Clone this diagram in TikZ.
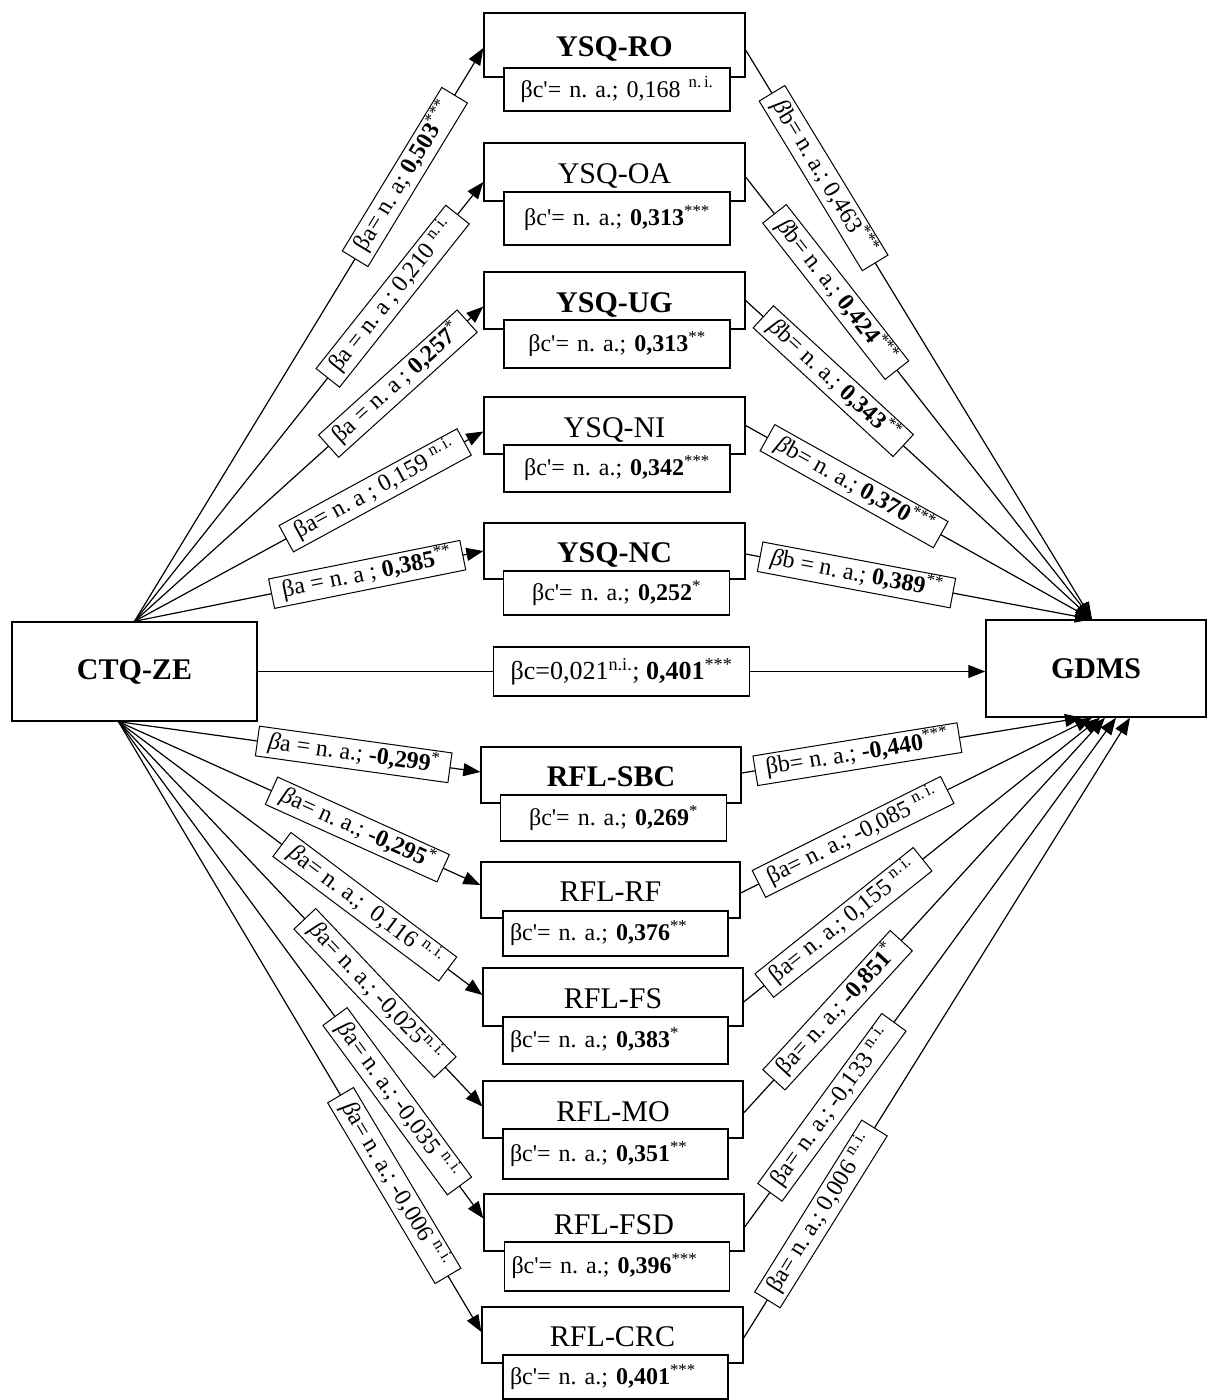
\documentclass[tikz,border=0pt]{standalone}
\usepackage{fontspec}
\setmainfont{Liberation Serif}
\usetikzlibrary{arrows.meta}
\newcommand\betu{β}
\newcommand\beti{\textit{β}}
\newcommand\cpr{\textquotesingle}
\newcommand\nsig{\textsuperscript{n.\,i.}}
\frenchspacing
\begin{document}
\begin{tikzpicture}[x=1pt,y=-1pt,
  big/.style={draw, line width=1.4pt, inner sep=0pt, font=\bfseries\fontsize{30}{34}\selectfont},
  box/.style={draw, line width=1.3pt, fill=white, inner sep=0pt, minimum width=261pt,
    text height=23pt, text depth=0pt, font=\fontsize{30}{34}\selectfont},
  sub/.style={draw, line width=1.3pt, fill=white, inner xsep=7pt, inner ysep=0pt, font=\fontsize{24}{28}\selectfont},
  subc/.style={sub, align=center, text width=212pt},
  subl/.style={sub, align=left, text width=211pt},
  lab/.style={draw, line width=1pt, fill=white, sloped, inner xsep=11pt, inner ysep=3.5pt,
    text height=17.5pt, text depth=5.5pt, font=\fontsize{24}{28}\selectfont},
  clab/.style={draw, line width=1.2pt, fill=white, minimum width=256pt, minimum height=49pt,
    inner sep=0pt, font=\fontsize{26}{30}\selectfont},
  arr/.style={line width=1.2pt, -{Triangle[length=17pt,width=13pt]}},
]
\useasboundingbox (0,0) rectangle (1207,1400);

% predictor and outcome
\node[big, minimum width=245pt, minimum height=99pt] (ctq) at (134.5,671.5) {CTQ-ZE};
\node[big, minimum width=220pt, minimum height=97pt] (gdms) at (1096,668.5) {GDMS};
\coordinate (ctqlo) at ([xshift=-16pt]ctq.south);
\coordinate (gtop) at ([xshift=-4pt]gdms.north);

% YSQ mediators
\node[box, minimum height=64pt] (ro) at (614.5,45) {\textbf{YSQ-RO}};
\node[subc, minimum height=43pt] (roc) at (617,89.5) {\betu c\cpr= n. a.; 0,168 \nsig};
\node[box, minimum height=58pt] (oa) at (614.5,172) {YSQ-OA};
\node[subc, minimum height=53pt] (oac) at (617,218.5) {\betu c\cpr= n. a.; \textbf{0,313}\textsuperscript{***}};
\node[box, minimum height=57pt] (ug) at (614.5,300.5) {\textbf{YSQ-UG}};
\node[subc, minimum height=48pt] (ugc) at (617,344) {\betu c\cpr= n. a.; \textbf{0,313}\textsuperscript{**}};
\node[box, minimum height=57pt] (ni) at (614.5,425.5) {YSQ-NI};
\node[subc, minimum height=47pt] (nic) at (617,468.5) {\betu c\cpr= n. a.; \textbf{0,342}\textsuperscript{***}};
\node[box, minimum height=56pt] (nc) at (614.5,551) {\textbf{YSQ-NC}};
\node[subc, minimum height=44pt] (ncc) at (616.5,593) {\betu c\cpr= n. a.; \textbf{0,252}\textsuperscript{*}};

% RFL mediators
\node[box, minimum width=260pt, minimum height=56pt] (sbc) at (611,775) {\textbf{RFL-SBC}};
\node[subc, minimum height=46pt] (sbcc) at (613.5,818) {\betu c\cpr= n. a.; \textbf{0,269}\textsuperscript{*}};
\node[box, minimum width=259pt, minimum height=56pt] (rf) at (610.5,890) {RFL-RF};
\node[subl, minimum height=45pt] (rfc) at (615.5,933.5) {\betu c\cpr= n. a.; \textbf{0,376}\textsuperscript{**}};
\node[box, minimum width=260pt, minimum height=58pt] (fs) at (613,997) {RFL-FS};
\node[subl, minimum height=47pt] (fsc) at (615.5,1040.5) {\betu c\cpr= n. a.; \textbf{0,383}\textsuperscript{*}};
\node[box, minimum width=260pt, minimum height=57pt] (mo) at (613,1109.5) {RFL-MO};
\node[subl, minimum height=50pt] (moc) at (615.5,1154) {\betu c\cpr= n. a.; \textbf{0,351}\textsuperscript{**}};
\node[box, minimum width=260pt, minimum height=57pt] (fsd) at (614,1222.5) {RFL-FSD};
\node[subl, minimum height=49pt] (fsdc) at (617,1266.5) {\betu c\cpr= n. a.; \textbf{0,396}\textsuperscript{***}};
\node[box, minimum height=56pt] (crc) at (612.5,1335) {RFL-CRC};
\node[subl, minimum height=44pt] (crcc) at (615.5,1377) {\betu c\cpr= n. a.; \textbf{0,401}\textsuperscript{***}};

% direct path
\draw[arr] (ctq.east) -- (ctq.east -| gdms.west)
  node[clab, pos=0.5] (cdir) {\betu c=0,021\textsuperscript{n.i.}; \textbf{0,401}\textsuperscript{***}};

% a paths to the YSQ mediators
\draw[arr] (ctq.north) -- ([yshift=-3pt]ro.west)
  node[lab, pos=0.775] {\betu a= n. a; \textbf{0,503}\textsuperscript{***}};
\draw[arr] (ctq.north) -- ([yshift=-10pt]oa.west)
  node[lab, pos=0.74] {\betu a = n. a ; 0,210 \nsig};
\draw[arr] (ctq.north) -- ([yshift=-6pt]ug.west)
  node[lab, pos=0.755] {\betu a = n. a ; \textbf{0,257}\textsuperscript{*}};
\draw[arr] (ctq.north) -- ([yshift=-6pt]ni.west)
  node[lab, pos=0.69] {\betu a= n. a ; 0,159 \nsig};
\draw[arr] (ctq.north) -- (nc.west)
  node[lab, pos=0.667] {\betu a = n. a ; \textbf{0,385}\textsuperscript{**}};

% a paths to the RFL mediators
\draw[arr] (ctqlo) -- ([yshift=3pt]sbc.west)
  node[lab, pos=0.65] {\beti a = n. a.; \textbf{-0,299}\textsuperscript{*}};
\draw[arr] (ctqlo) -- ([yshift=5pt]rf.west)
  node[lab, pos=0.66] {\beti a= n. a.; \textbf{-0,295}\textsuperscript{*}};
\draw[arr] (ctqlo) -- ([yshift=2pt]fs.west)
  node[lab, pos=0.677] {\beti a= n. a.;\ \ 0,116 \nsig};
\draw[arr] (ctqlo) -- ([yshift=3pt]mo.west)
  node[lab, pos=0.705] {\beti a= n. a.; -0,025\nsig};
\draw[arr] (ctqlo) -- ([yshift=4pt]fsd.west)
  node[lab, pos=0.764] {\beti a= n. a.; -0,035 \nsig};
\draw[arr] (ctqlo) -- ([yshift=3pt]crc.west)
  node[lab, pos=0.76] {\beti a= n. a.; -0,006 \nsig};

% b paths from the YSQ mediators
\draw[arr] ([yshift=-5pt]ro.east) -- (gtop)
  node[lab, pos=0.225] {\beti b= n. a.; 0,463\textsuperscript{***}};
\draw[arr] ([yshift=-5pt]oa.east) -- (gtop)
  node[lab, pos=0.26] {\beti b= n. a.; \textbf{0,424}\textsuperscript{***}};
\draw[arr] (ug.east) -- (gtop)
  node[lab, pos=0.253] {\beti b= n. a.; \textbf{0,343}\textsuperscript{**}};
\draw[arr] (ni.east) -- (gtop)
  node[lab, pos=0.313] {\beti b= n. a.; \textbf{0,370}\textsuperscript{***}};
\draw[arr] ([yshift=-3pt]nc.east) -- (gtop)
  node[lab, pos=0.32] {\beti b = n. a.; \textbf{0,389}\textsuperscript{**}};

% b paths from the RFL mediators
\draw[arr] ([yshift=-3pt]crc.east) -- ([xshift=34pt]gdms.south)
  node[lab, pos=0.2] {\betu a= n. a.; 0,006 \nsig};
\draw[arr] ([yshift=-4.5pt]fsd.east) -- ([xshift=20pt]gdms.south)
  node[lab, pos=0.235] {\betu a= n. a.; -0,133 \nsig};
\draw[arr] ([yshift=-3.5pt]mo.east) -- ([xshift=9pt]gdms.south)
  node[lab, pos=0.26] {\betu a= n. a.; \textbf{-0,851}\textsuperscript{*}};
\draw[arr] ([yshift=-5pt]fs.east) -- ([xshift=4pt]gdms.south)
  node[lab, pos=0.28] {\betu a= n. a.; 0,155 \nsig};
\draw[arr] ([yshift=-3pt]rf.east) -- ([xshift=-4pt]gdms.south)
  node[lab, pos=0.32] {\betu a= n. a.; -0,085 \nsig};
\draw[arr] ([yshift=2pt]sbc.east) -- ([xshift=-14pt]gdms.south)
  node[lab, pos=0.34] {\betu b= n. a.; \textbf{-0,440}\textsuperscript{***}};
\end{tikzpicture}
\end{document}
